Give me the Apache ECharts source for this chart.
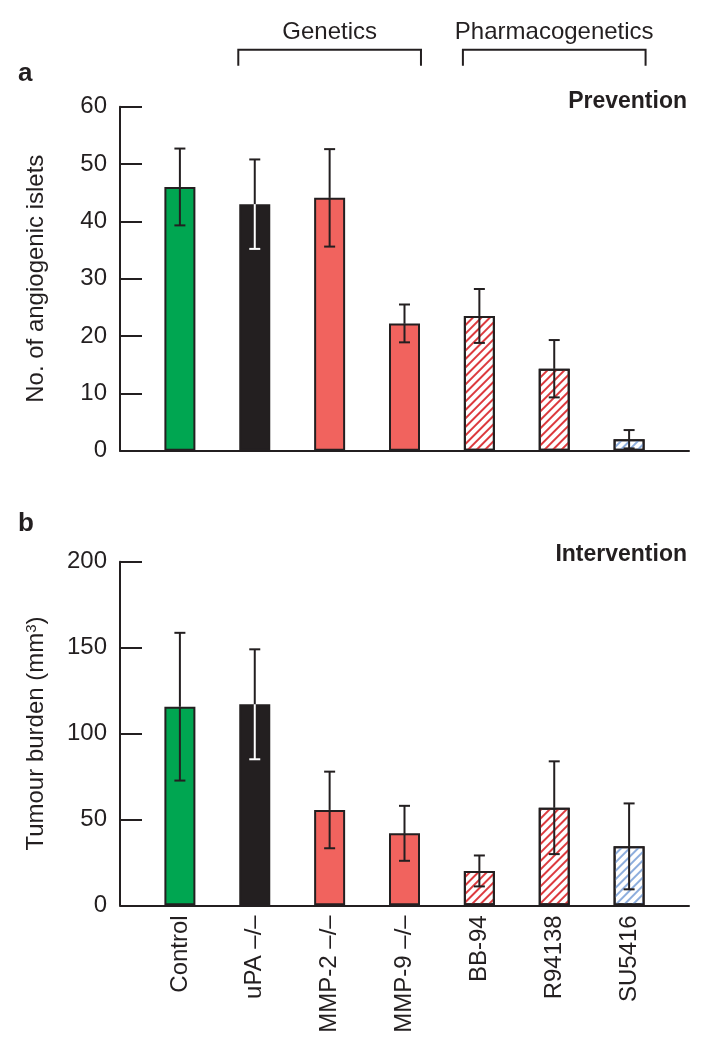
<!DOCTYPE html>
<html><head><meta charset="utf-8">
<script src="https://cdn.jsdelivr.net/npm/echarts@6/dist/echarts.min.js"></script>
<style>html,body{margin:0;padding:0;background:#fff}#c{width:719px;height:1050px}</style>
</head><body><div id="c"></div>
<script>
// ---- data ----
const categories = ['Control', 'uPA –/–', 'MMP-2 –/–', 'MMP-9 –/–', 'BB-94', 'R94138', 'SU5416'];
const preventionMean = [46.0, 43.0, 44.1, 22.2, 23.5, 14.3, 2.0];
const preventionErr = [6.7, 7.8, 8.5, 3.3, 4.7, 5.0, 1.6];
const interventionMean = [115.6, 117.0, 55.5, 41.9, 20.0, 56.8, 34.3];
const interventionErr = [43.0, 32.0, 22.3, 16.0, 9.0, 27.0, 25.0];
const groupNames = ['Genetics', 'Pharmacogenetics'];
const groupFirst = [1, 4];
const groupLast = [3, 6];

// ---- styles ----
const DARK = '#231f20';
const FONT = 'Liberation Sans, Arial, Helvetica, sans-serif';
const hatch = (c) => ({ symbol: 'rect', symbolSize: 1, dashArrayX: [1, 0], dashArrayY: [2, 3.2], rotation: -Math.PI / 4, color: c });
const barStyles = [
  { color: '#00a651' },
  { color: DARK },
  { color: '#f1635e' },
  { color: '#f1635e' },
  { color: '#ffffff', decal: hatch('#dc3a3e') },
  { color: '#ffffff', decal: hatch('#dc3a3e') },
  { color: '#ffffff', decal: hatch('#8eaedd') }
];
const innerWhite = [0, 1, 0, 0, 0, 0, 0];

function barData(mean) {
  return mean.map((v, i) => ({ value: [i, v], itemStyle: Object.assign({ borderColor: DARK, borderWidth: 2 }, barStyles[i]) }));
}
function errData(mean, err) {
  return mean.map((v, i) => [i, v, err[i], innerWhite[i]]);
}
function errRender(params, api) {
  const i = api.value(0), m = api.value(1), e = api.value(2), inner = api.value(3);
  const t = api.coord([i, m + e]), c = api.coord([i, m]), b = api.coord([i, m - e]);
  const hw = 5.5;
  const low = inner ? '#ffffff' : DARK;
  const ln = (x1, y1, x2, y2, col) => ({ type: 'line', shape: { x1, y1, x2, y2 }, style: { stroke: col, lineWidth: 2 } });
  return { type: 'group', children: [
    ln(t[0], t[1], c[0], c[1], DARK),
    ln(t[0] - hw, t[1], t[0] + hw, t[1], DARK),
    ln(c[0], c[1], b[0], b[1], low),
    ln(b[0] - hw, b[1], b[0] + hw, b[1], low)
  ] };
}
function bracketRender(params, api) {
  const k = params.dataIndex;
  const l = api.coord([api.value(0) - 0.22, api.value(2)]);
  const r = api.coord([api.value(1) + 0.22, api.value(2)]);
  const yTop = l[1] - 57, yLeg = l[1] - 41;
  return { type: 'group', children: [
    { type: 'polyline', shape: { points: [[l[0], yLeg], [l[0], yTop], [r[0], yTop], [r[0], yLeg]] }, style: { stroke: DARK, lineWidth: 2, fill: null } },
    { type: 'text', style: { text: groupNames[k], x: (l[0] + r[0]) / 2, y: yTop - 5, align: 'center', verticalAlign: 'bottom', fontSize: 24, fontFamily: FONT, fill: DARK } }
  ] };
}

const xBase = {
  type: 'value', min: -0.8, max: 6.8,
  axisLine: { show: true, onZero: false, lineStyle: { color: DARK, width: 2 } },
  axisTick: { show: false }, splitLine: { show: false }
};
const yBase = {
  type: 'value', min: 0,
  axisLine: { show: true, onZero: false, lineStyle: { color: DARK, width: 2 } },
  axisTick: { show: true, inside: true, length: 22, lineStyle: { color: DARK, width: 2 } },
  axisLabel: { color: DARK, fontSize: 24, fontFamily: FONT, margin: 13 },
  splitLine: { show: false },
  nameLocation: 'middle', nameGap: 72,
  nameTextStyle: { color: DARK, fontSize: 24, fontFamily: FONT }
};

const titleStyle = (s) => ({ color: DARK, fontSize: s, fontWeight: 'bold', fontFamily: FONT });

const option = {
  backgroundColor: '#fff',
  animation: false,
  title: [
    { text: 'a', left: 18, top: 61, padding: 0, textStyle: titleStyle(26) },
    { text: 'Prevention', right: 32, top: 90, padding: 0, textStyle: titleStyle(23) },
    { text: 'b', left: 18, top: 511, padding: 0, textStyle: titleStyle(26) },
    { text: 'Intervention', right: 32, top: 543, padding: 0, textStyle: titleStyle(23) }
  ],
  grid: [
    { left: 120, right: 30, top: 106.7, height: 344 },
    { left: 120, right: 30, top: 561.7, height: 343.6 }
  ],
  xAxis: [
    Object.assign({}, xBase, { gridIndex: 0, axisLabel: { show: false } }),
    Object.assign({}, xBase, { gridIndex: 1, axisLabel: {
      show: true, customValues: categories.map((c, i) => i), formatter: (v) => categories[Math.round(v)],
      rotate: 90, margin: 10, color: DARK, fontSize: 24, fontFamily: FONT } })
  ],
  yAxis: [
    Object.assign({}, yBase, { gridIndex: 0, max: 60, interval: 10, name: 'No. of angiogenic islets' }),
    Object.assign({}, yBase, { gridIndex: 1, max: 200, interval: 50, name: 'Tumour burden (mm{sup|3})',
      nameTextStyle: { color: DARK, fontSize: 24, fontFamily: FONT, rich: { sup: { fontSize: 15, fontFamily: FONT, color: DARK, verticalAlign: 'top', padding: [0, 0, 8, 0] } } } })
  ],
  series: [
    { type: 'bar', xAxisIndex: 0, yAxisIndex: 0, barWidth: 31, data: barData(preventionMean) },
    { type: 'custom', xAxisIndex: 0, yAxisIndex: 0, z: 5, renderItem: errRender, data: errData(preventionMean, preventionErr) },
    { type: 'custom', xAxisIndex: 0, yAxisIndex: 0, z: 5, clip: false, renderItem: bracketRender,
      encode: { x: [0, 1], y: 2 }, data: groupNames.map((n, k) => [groupFirst[k], groupLast[k], 60]) },
    { type: 'bar', xAxisIndex: 1, yAxisIndex: 1, barWidth: 31, data: barData(interventionMean) },
    { type: 'custom', xAxisIndex: 1, yAxisIndex: 1, z: 5, renderItem: errRender, data: errData(interventionMean, interventionErr) }
  ]
};
const chart = echarts.init(document.getElementById('c'), null, { renderer: 'canvas' });
chart.setOption(option);
</script>
</body></html>
